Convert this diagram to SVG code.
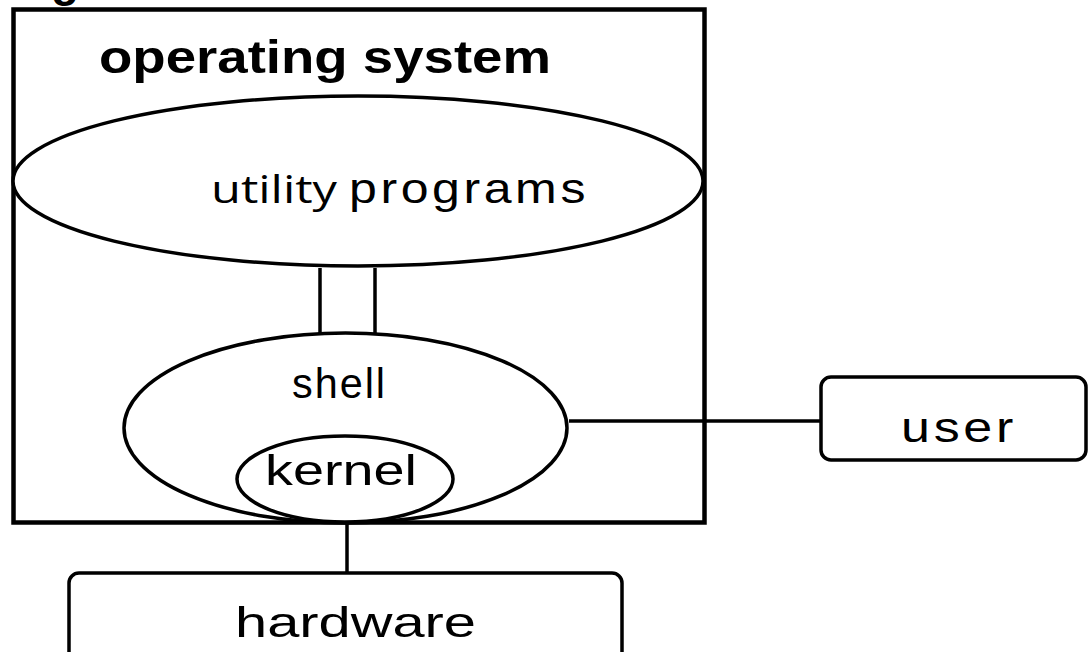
<svg xmlns="http://www.w3.org/2000/svg" width="1088" height="652" viewBox="0 0 1088 652">
  <style>
    .frame { fill: none; stroke: #000; stroke-width: 4.5; }
    .shape { fill: #fff; stroke: #000; stroke-width: 3.5; }
    .box { fill: #fff; stroke: #000; stroke-width: 3.5; }
    .link { stroke: #000; stroke-width: 3.5; fill: none; }
    .label { font-family: "Liberation Sans", Arial, sans-serif; font-size: 42px; fill: #000; }
    .title { font-family: "Liberation Sans", Arial, sans-serif; font-size: 46px; font-weight: bold; fill: #000; }
    .util { font-family: "Open Sans", "Liberation Sans", sans-serif; font-size: 38px; fill: #000; }
  </style>

  <!-- clipped caption descender above the frame -->
  <text class="title" x="51" y="-4" font-size="36">g</text>

  <!-- operating system frame -->
  <g id="operating-system">
    <rect class="frame" x="13.5" y="9.5" width="691" height="513"/>
    <text class="title" x="99" y="73" textLength="452" lengthAdjust="spacingAndGlyphs">operating system</text>
  </g>

  <!-- utility programs -->
  <g id="utility-programs">
    <ellipse class="shape" cx="358" cy="181" rx="345" ry="85"/>
    <text class="util" x="211" y="203" textLength="126" lengthAdjust="spacingAndGlyphs">utility</text>
    <text class="label" x="349" y="203" font-size="41" letter-spacing="3" textLength="240" lengthAdjust="spacingAndGlyphs">programs</text>
  </g>

  <!-- connectors -->
  <g id="connectors">
    <line class="link" x1="320" y1="268" x2="320" y2="334"/>
    <line class="link" x1="375" y1="268" x2="375" y2="334"/>
    <line class="link" x1="569" y1="421" x2="821" y2="421"/>
    <line class="link" x1="347" y1="524" x2="347" y2="574"/>
  </g>

  <!-- shell -->
  <g id="shell">
    <ellipse class="shape" cx="345.5" cy="428" rx="221.5" ry="95"/>
    <text class="label" x="292" y="398" font-size="41" letter-spacing="2" textLength="95" lengthAdjust="spacingAndGlyphs">shell</text>
  </g>

  <!-- kernel -->
  <g id="kernel">
    <ellipse class="shape" cx="345" cy="479" rx="108" ry="43"/>
    <text class="label" x="265" y="485" textLength="152" lengthAdjust="spacingAndGlyphs">kernel</text>
  </g>

  <!-- user -->
  <g id="user">
    <rect class="box" x="821" y="377" width="265" height="83" rx="10"/>
    <text class="label" x="901" y="442" letter-spacing="3" textLength="116" lengthAdjust="spacingAndGlyphs">user</text>
  </g>

  <!-- hardware -->
  <g id="hardware">
    <rect class="box" x="69" y="573" width="553" height="100" rx="10"/>
    <text class="label" x="235" y="637" font-size="47" textLength="241" lengthAdjust="spacingAndGlyphs">hardware</text>
  </g>
</svg>
